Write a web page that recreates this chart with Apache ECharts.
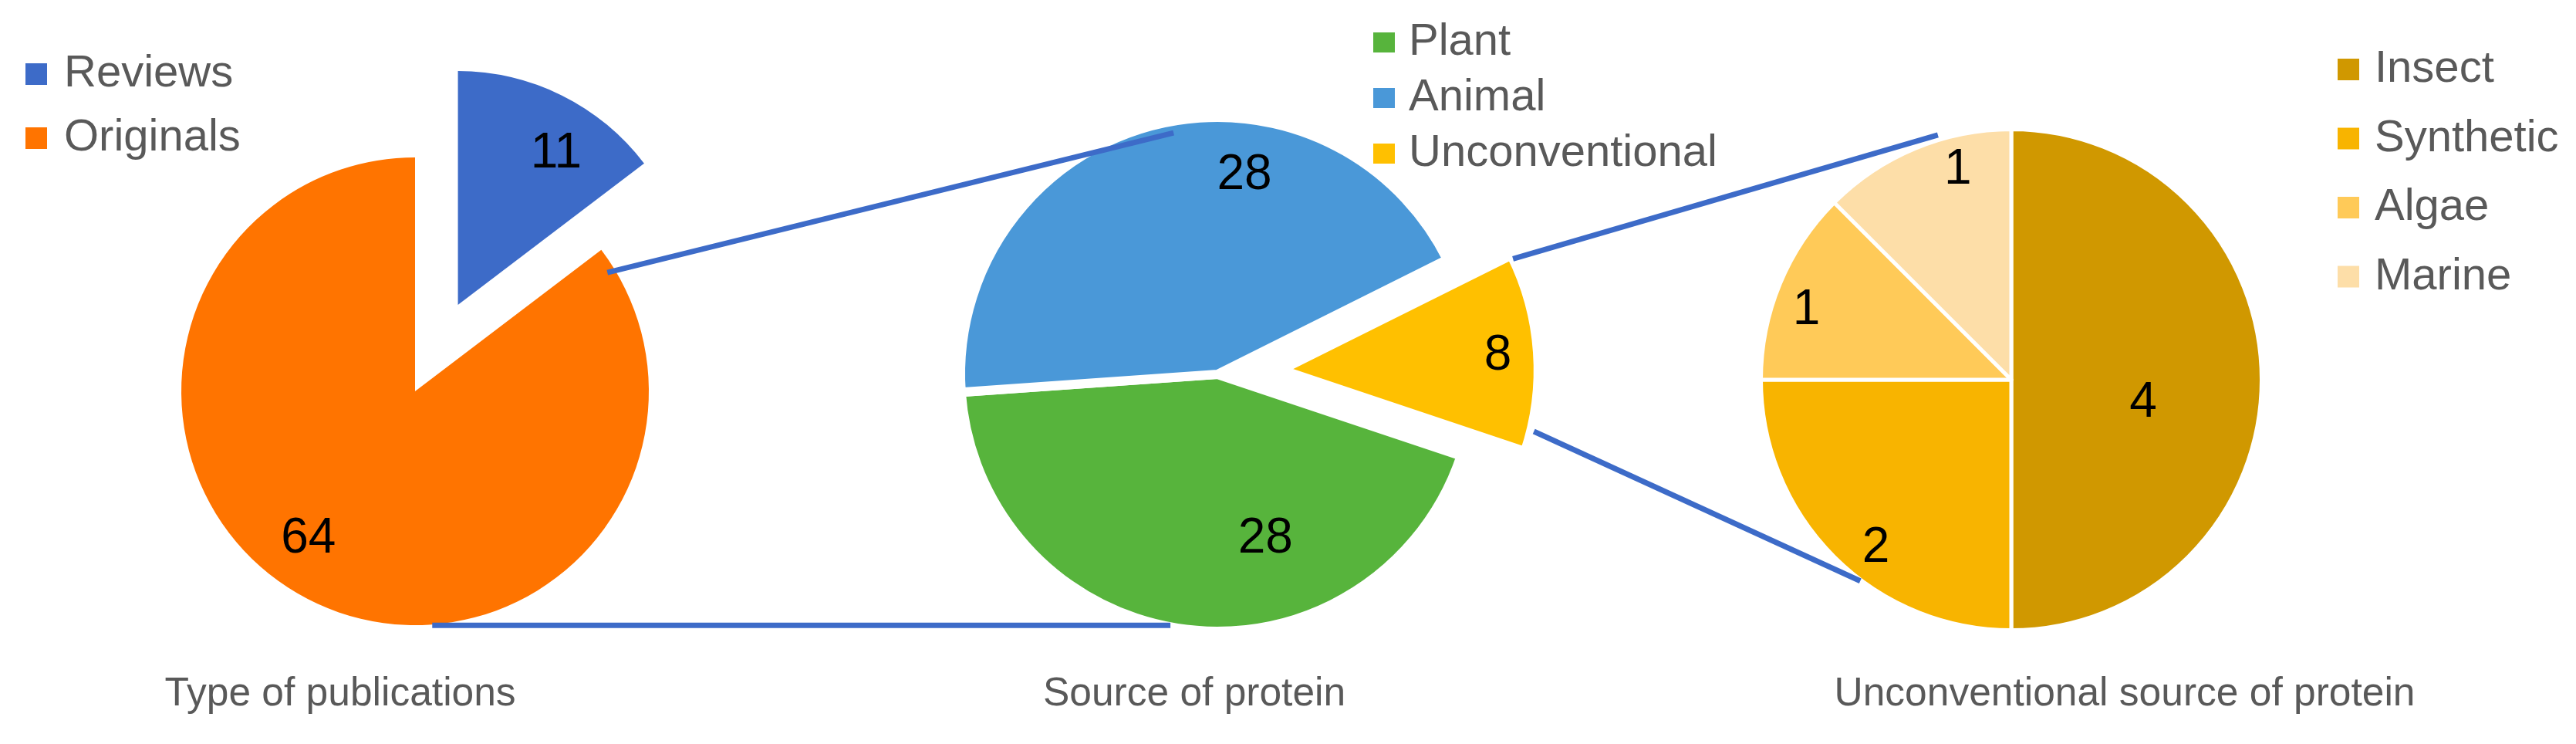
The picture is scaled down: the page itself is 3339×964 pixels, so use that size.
<!DOCTYPE html>
<html><head><meta charset="utf-8">
<script src="https://cdn.jsdelivr.net/npm/echarts@6/dist/echarts.min.js"></script>
<style>html,body{margin:0;padding:0;background:#fff}#c{width:3339px;height:964px}</style>
</head><body><div id="c"></div>
<script>
// ---- data ----
const pubCategories = ['Reviews', 'Originals'];
const pubValues = [11, 64];
const sourceCategories = ['Plant', 'Animal', 'Unconventional'];
const sourceValues = [28, 28, 8];
const unconvCategories = ['Insect', 'Synthetic', 'Algae', 'Marine'];
const unconvValues = [4, 2, 1, 1];
const chartTitles = ['Type of publications', 'Source of protein', 'Unconventional source of protein'];

// ---- styles ----
const FONT = 'Liberation Sans, Arial, sans-serif';
const TEXT_GREY = '#595959';
const LINK_BLUE = '#3D6BC8';
const pubColors = ['#3D6BC8', '#FF7400'];
const sourceColors = ['#57B43C', '#4A98D8', '#FFC000'];
const unconvColors = ['#D09800', '#F8B400', '#FFCA58', '#FDDEA8'];

// geometry (centre, radius, first-slice angle clockwise from 12 o'clock, exploded slice)
const pies = [
  { cats: pubCategories, vals: pubValues, colors: pubColors, c: [538, 507], r: 303, start: 0,
    explodeIndex: 0, explodeOffset: 125, border: 0,
    labelSpots: [[0.77, 6.7], [0.78, 9.4]] },
  { cats: sourceCategories, vals: sourceValues, colors: sourceColors, c: [1578, 485], r: 327, start: 108.5,
    explodeIndex: 2, explodeOffset: 83, border: 12,
    labelSpots: [[0.68, -23.5], [0.795, 23], [0.86, 0.3]] },
  { cats: unconvCategories, vals: unconvValues, colors: unconvColors, c: [2607, 492], r: 322, start: 0,
    explodeIndex: -1, explodeOffset: 0, border: 5,
    labelSpots: [[0.54, 10.2], [0.87, -6.25], [0.87, -3.9], [0.87, 8.2]] }
];
const titleCentres = [441, 1548, 2754];

function pt(c, ang, d) {
  const t = ang * Math.PI / 180;
  return [c[0] + d * Math.sin(t), c[1] - d * Math.cos(t)];
}
function sliceAngles(p) {
  const tot = p.vals.reduce((a, b) => a + b, 0);
  let acc = 0;
  return p.vals.map(v => {
    const a0 = p.start + acc / tot * 360; acc += v;
    return [a0, p.start + acc / tot * 360];
  });
}
pies.forEach(p => {
  p.R = p.r + p.border / 2;
  p.angles = sliceAngles(p);
  p.mids = p.angles.map(a => (a[0] + a[1]) / 2);
  p.origins = p.mids.map((m, i) => i === p.explodeIndex ? pt(p.c, m, p.explodeOffset) : p.c);
  // wanted label centre
  p.labelPos = p.mids.map((m, i) => pt(p.origins[i], m + p.labelSpots[i][1], p.labelSpots[i][0] * p.r));
  // where the library puts an 'inside' label by itself
  p.defaultPos = p.mids.map((m, i) => pt(p.c, m, p.R / 2 + 3 + (i === p.explodeIndex ? p.explodeOffset : 0)));
});

// connectors: [pieIndex, sliceIndex(-1 = centre), angle, distance]
const connectors = [
  [[0, -1, 58.3, 293], [1, -1, 349.7, 318]],
  [[0, -1, 175.8, 304], [1, -1, 190.6, 331]],
  [[1, 2, 64.4, 333], [2, -1, 343.3, 331]],
  [[1, 2, 103.7, 337], [2, -1, 216.9, 326]]
];
function connPoint(s) {
  const p = pies[s[0]];
  const o = s[1] >= 0 ? p.origins[s[1]] : p.c;
  return pt(o, s[2], s[3]);
}

const series = pies.map((p, si) => ({
  type: 'pie',
  center: p.c,
  radius: p.R,
  startAngle: 90 - p.start,
  clockwise: true,
  selectedMode: 'single',
  selectedOffset: p.explodeOffset,
  avoidLabelOverlap: false,
  animation: false,
  emphasis: { disabled: true },
  itemStyle: { borderColor: '#fff', borderWidth: p.border },
  label: { show: true, position: 'inside', formatter: '{c}', fontSize: 64, color: '#000', fontFamily: FONT },
  labelLine: { show: false },
  labelLayout: params => {
    const q = pies[si], i = params.dataIndex;
    return { dx: q.labelPos[i][0] - q.defaultPos[i][0], dy: q.labelPos[i][1] - q.defaultPos[i][1] };
  },
  data: p.cats.map((n, i) => ({ name: n, value: p.vals[i], selected: i === p.explodeIndex, itemStyle: { color: p.colors[i] } }))
}));

function legendCfg(names, left, top, w, h, gap, textPad) {
  return {
    data: names, orient: 'vertical', left: left, top: top, padding: 0,
    icon: 'rect', itemWidth: w, itemHeight: h, itemGap: gap, selectedMode: false,
    textStyle: { fontSize: 58, lineHeight: 58, color: TEXT_GREY, fontFamily: FONT, padding: [0, 0, 0, textPad] }
  };
}

const option = {
  backgroundColor: '#fff',
  animation: false,
  title: chartTitles.map((t, i) => ({
    text: t, left: titleCentres[i], top: 874, textAlign: 'center', padding: 0,
    textStyle: { fontSize: 51.5, fontWeight: 'normal', color: TEXT_GREY, fontFamily: FONT }
  })),
  legend: [
    legendCfg(pubCategories, 33, 67, 28, 28, 25, 17),
    legendCfg(sourceCategories, 1778, 26, 30, 28, 14, 12),
    legendCfg(unconvCategories, 3028, 61, 30, 30, 31.5, 14)
  ],
  series: series,
  graphic: connectors.map(cn => {
    const a = connPoint(cn[0]), b = connPoint(cn[1]);
    return { type: 'line', z: 100, silent: true,
      shape: { x1: a[0], y1: a[1], x2: b[0], y2: b[1] },
      style: { stroke: LINK_BLUE, lineWidth: 7 } };
  })
};

const chart = echarts.init(document.getElementById('c'), null, { renderer: 'canvas' });
chart.setOption(option);
</script>
</body></html>
